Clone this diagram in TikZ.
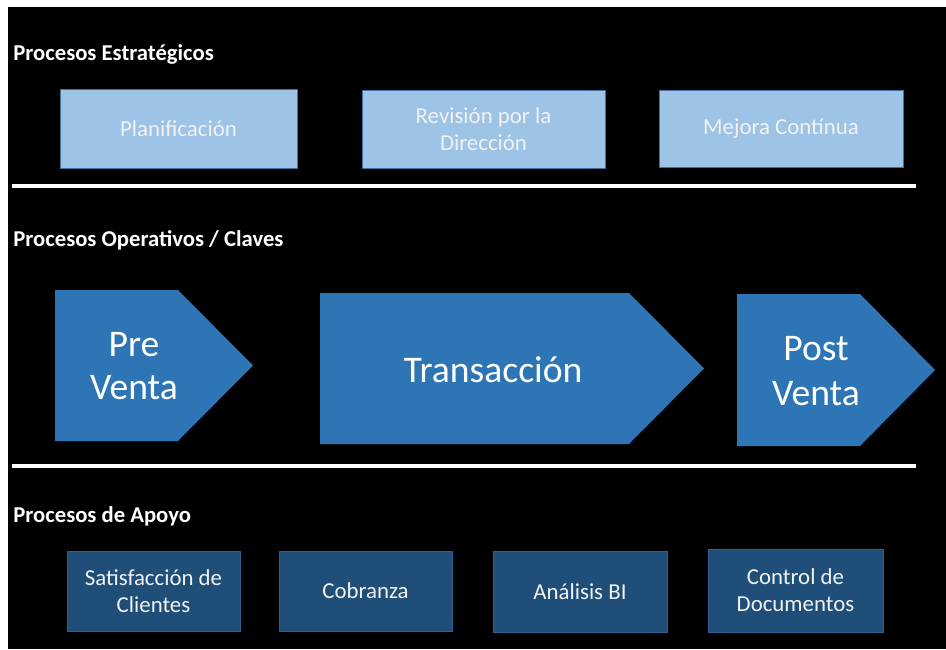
\documentclass[tikz,border=0pt]{standalone}
\usepackage{fontspec}
\setmainfont{Carlito}
\definecolor{topfill}{HTML}{9DC3E6}
\definecolor{topedge}{HTML}{41719C}
\definecolor{midfill}{HTML}{2E75B6}
\definecolor{lowfill}{HTML}{1F4E79}
\definecolor{lowedge}{HTML}{2F5F8F}
\definecolor{boxtext}{HTML}{F2F2F2}
\begin{document}
\begin{tikzpicture}[
    x=0.02cm, y=-0.02cm,
  titlenode/.style={anchor=west, inner sep=0pt, text=white, font=\fontsize{12.9}{15}\selectfont\bfseries},
  topbox/.style={rectangle, draw=topedge, fill=topfill, line width=0.5pt, inner sep=0pt, align=center, text=boxtext, font=\fontsize{13}{15.4}\selectfont},
  lowbox/.style={rectangle, draw=lowedge, fill=lowfill, line width=0.5pt, inner sep=0pt, align=center, text=boxtext, font=\fontsize{13}{15.4}\selectfont},
  stagetext/.style={align=center, inner sep=0pt, text=white, font=\fontsize{21.4}{24.5}\selectfont},
  sepline/.style={white, line width=2.4pt}
]

% Background
\fill[white] (0,0) rectangle (946,649);
\fill[black] (8,7) rectangle (946,649);

% Section titles
\node[titlenode] (strat) at (13,54) {Procesos Estratégicos};
\node[titlenode] (oper) at (13,240) {Procesos Operativos / Claves};
\node[titlenode] (apoyo) at (13,516) {Procesos de Apoyo};

% Strategic boxes
\node[topbox, minimum width=4.74cm, minimum height=1.58cm] (plan) at (178.5,128.5) {Planificación};
\node[topbox, minimum width=4.86cm, minimum height=1.56cm] (revision) at (483.5,129) {Revisión por la\\Dirección};
\node[topbox, minimum width=4.88cm, minimum height=1.54cm] (mejora) at (781,128.5) {Mejora Contínua};

% Separators
\draw[sepline] (12,186) -- (916,186);
\draw[sepline] (12,466) -- (916,466);

% Operative stages
\fill[midfill] (55,290) -- (178,290) -- (253,365.5) -- (178,441) -- (55,441) -- cycle;
\node[stagetext] (preventa) at (134,366) {Pre\\Venta};
\fill[midfill] (320,293) -- (629,293) -- (704,368.5) -- (629,444) -- (320,444) -- cycle;
\node[stagetext] (transaccion) at (493,370) {Transacción};
\fill[midfill] (737,294) -- (860,294) -- (935,370) -- (860,446) -- (737,446) -- cycle;
\node[stagetext, font=\fontsize{21.4}{25.5}\selectfont] (postventa) at (816,371) {Post\\Venta};

% Support boxes
\node[lowbox, minimum width=3.46cm, minimum height=1.6cm] (satisf) at (153.5,591) {Satisfacción de\\Clientes};
\node[lowbox, minimum width=3.46cm, minimum height=1.6cm] (cobranza) at (365.5,591) {Cobranza};
\node[lowbox, minimum width=3.48cm, minimum height=1.62cm] (analisis) at (580,591.5) {Análisis BI};
\node[lowbox, minimum width=3.5cm, minimum height=1.66cm] (control) at (795.5,590.5) {Control de\\Documentos};

\end{tikzpicture}
\end{document}
